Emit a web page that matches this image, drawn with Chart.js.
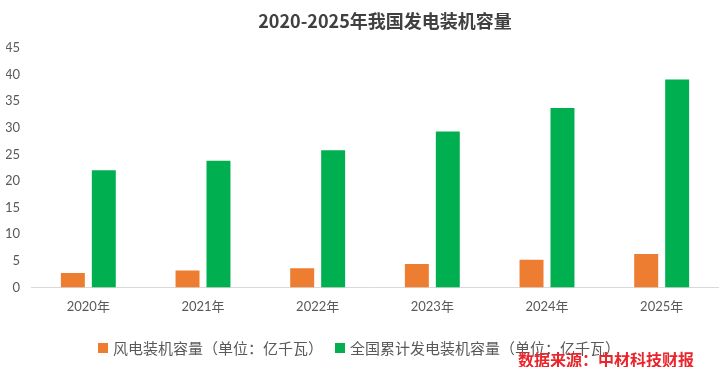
<!DOCTYPE html>
<html>
<head>
<meta charset="utf-8">
<script src="https://cdn.jsdelivr.net/npm/chart.js@4/dist/chart.umd.min.js"></script>
<style>
  html, body { margin: 0; padding: 0; background: #fff; }
  #wrap { position: relative; width: 719px; height: 367px; overflow: hidden; }
  #c { position: absolute; left: 0; top: 0; }
  #title { position: absolute; left: 385px; top: 7px; transform: translateX(-50%); white-space: nowrap;
    font-family: "Noto Sans CJK SC", sans-serif; font-weight: bold; font-size: 18px; color: #404040; line-height: 26px; }
  #legend { position: absolute; left: 98px; top: 337px; white-space: nowrap; font-family: "Noto Sans CJK SC", serif;
    font-size: 15px; color: #595959; line-height: 20px; }
  #legend span.item { display: inline-flex; align-items: center; margin-right: 12px; }
  #legend span.box { display: inline-block; width: 10px; height: 10px; margin-right: 5px; }
  #source { position: absolute; left: 518px; top: 349px; white-space: nowrap; font-family: "Noto Sans CJK SC", sans-serif;
    font-size: 16px; font-weight: 600; color: #e8262b; line-height: 20px; }
</style>
</head>
<body>
<div id="wrap">
  <canvas id="c" width="719" height="367"></canvas>
  <div id="title"></div>
  <div id="legend"></div>
  <div id="source"></div>
</div>
<script>
const titleText = "2020-2025年我国发电装机容量";
const sourceText = "数据来源：中材科技财报";
const categories = ["2020年", "2021年", "2022年", "2023年", "2024年", "2025年"];
const seriesNames = ["风电装机容量（单位：亿千瓦）", "全国累计发电装机容量（单位：亿千瓦）"];
const windCapacity = [2.7, 3.2, 3.6, 4.4, 5.2, 6.3];
const totalCapacity = [22.0, 23.8, 25.8, 29.3, 33.7, 39.1];
const seriesColors = ["#ed7d31", "#00b050"];
const yMin = 0, yMax = 45, yStep = 5;

document.getElementById('title').textContent = titleText;
document.getElementById('source').textContent = sourceText;
const legendEl = document.getElementById('legend');
seriesNames.forEach((n, i) => {
  const item = document.createElement('span');
  item.className = 'item';
  const box = document.createElement('span');
  box.className = 'box';
  box.style.background = seriesColors[i];
  item.appendChild(box);
  item.appendChild(document.createTextNode(n));
  legendEl.appendChild(item);
});

const tickFont = { family: "Lato, 'Noto Sans CJK SC', sans-serif", size: 13 };

new Chart(document.getElementById('c'), {
  type: 'bar',
  data: {
    labels: categories,
    datasets: [
      { label: seriesNames[0], data: windCapacity, backgroundColor: seriesColors[0], categoryPercentage: 0.54, barPercentage: 0.774 },
      { label: seriesNames[1], data: totalCapacity, backgroundColor: seriesColors[1], categoryPercentage: 0.54, barPercentage: 0.774 }
    ]
  },
  options: {
    responsive: false,
    animation: false,
    layout: { padding: { left: 6, right: 0, top: 48, bottom: 40 } },
    plugins: {
      legend: { display: false },
      title: { display: false },
      tooltip: { enabled: false }
    },
    scales: {
      x: {
        grid: { display: false, drawTicks: false },
        border: { display: true, color: '#d9d9d9', width: 1 },
        ticks: { color: '#595959', font: tickFont, padding: 12 }
      },
      y: {
        min: yMin, max: yMax,
        grid: { display: false, drawTicks: false },
        border: { display: false },
        ticks: { stepSize: yStep, color: '#595959', font: tickFont, padding: 11 },
        afterFit: (scale) => { scale.width = 25; }
      }
    }
  }
});
</script>
</body>
</html>
